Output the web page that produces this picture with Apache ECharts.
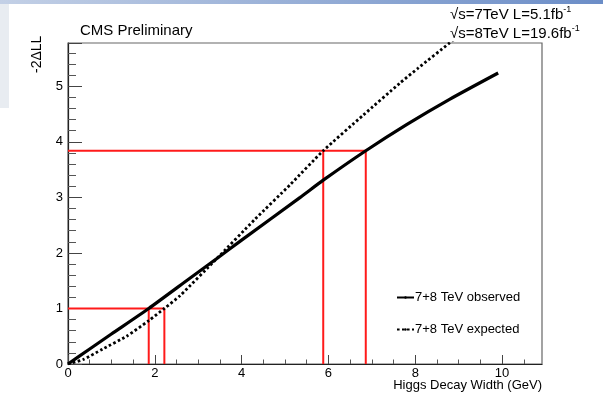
<!DOCTYPE html>
<html>
<head>
<meta charset="utf-8">
<script src="https://cdn.jsdelivr.net/npm/echarts@6/dist/echarts.min.js"></script>
<style>
html, body { margin: 0; padding: 0; background: #fff; }
#main { width: 603px; height: 396px; }
</style>
</head>
<body>
<div id="main"></div>
<script>
// -2 delta log-likelihood scan vs Higgs width
var obsX = [0, 0.5, 1.0, 1.86, 2.8, 3.43, 4.0, 5.35, 5.88, 6.86, 7.8, 8.8, 9.91];
var obsY = [0, 0.27, 0.54, 1.0, 1.54, 1.9, 2.23, 3.0, 3.31, 3.84, 4.31, 4.77, 5.24];
var expX = [0, 0.35, 0.8, 1.35, 1.86, 2.22, 2.58, 3.43, 4.3, 5.12, 5.88, 6.8, 7.65, 8.07, 8.79, 9.3];
var expY = [0, 0.08, 0.27, 0.5, 0.78, 1.0, 1.23, 1.9, 2.6, 3.23, 3.84, 4.48, 5.06, 5.33, 5.78, 6.09];
// red guide lines: CL levels and where each curve crosses them
var levels = [1, 3.84];
var obsCross = [1.86, 6.86];
var expCross = [2.22, 5.88];
var xTicks = [0, 2, 4, 6, 8, 10];

var font = 'Liberation Sans, Arial, Helvetica, sans-serif';

function pairs(xs, ys) {
	var out = [];
	for (var i = 0; i < xs.length; i++) out.push([xs[i], ys[i]]);
	return out;
}

var redSeries = [];
for (var i = 0; i < levels.length; i++) {
	var lv = levels[i];
	var far = Math.max(obsCross[i], expCross[i]);
	var segs = [
		[[0, lv], [far, lv]],
		[[obsCross[i], 0], [obsCross[i], lv]],
		[[expCross[i], 0], [expCross[i], lv]]
	];
	segs.forEach(function (s) {
		redSeries.push({
			type: 'line', data: s, symbol: 'none', silent: true, z: 1,
			lineStyle: { color: '#ff1a1a', width: 2 }
		});
	});
}

var myChart = echarts.init(document.getElementById('main'));
var option = {
	animation: false,
	backgroundColor: '#fff',
	grid: {
		left: 68, top: 43, right: 61, bottom: 32,
		show: true, borderColor: '#666', borderWidth: 1.2
	},
	xAxis: {
		type: 'value', min: 0, max: 10.92, interval: 2,
		axisLine: { onZero: false, lineStyle: { color: '#222', width: 1.2 } },
		axisTick: { inside: true, length: 9, lineStyle: { color: '#444' },
			customValues: xTicks },
		minorTick: { show: true, splitNumber: 4, length: 4.5, lineStyle: { color: '#555' } },
		axisLabel: { color: '#000', fontSize: 13, fontFamily: font, margin: 3,
			customValues: xTicks },
		splitLine: { show: false }
	},
	yAxis: {
		type: 'value', min: 0, max: 5.78, interval: 1,
		axisLine: { show: true, onZero: false, lineStyle: { color: '#222', width: 1.2 } },
		axisTick: { show: true, inside: true, length: 14, lineStyle: { color: '#444' } },
		minorTick: { show: true, splitNumber: 5, length: 8, lineStyle: { color: '#555' } },
		axisLabel: { color: '#000', fontSize: 13, fontFamily: font, margin: 5,
			showMaxLabel: false },
		splitLine: { show: false }
	},
	legend: {
		orient: 'vertical', left: 391, top: 286, itemGap: 19,
		itemWidth: 17, itemHeight: 3,
		textStyle: { color: '#000', fontSize: 13, fontFamily: font, padding: [0, 0, 0, -4] },
		data: ['7+8 TeV observed', '7+8 TeV expected']
	},
	graphic: [
		{ type: 'rect', shape: { x: 0, y: 0, width: 603, height: 4 }, silent: true,
			style: { fill: new echarts.graphic.LinearGradient(0, 0, 1, 0, [
				{ offset: 0, color: '#c3d0e6' }, { offset: 1, color: '#6b8dc7' }]) } },
		{ type: 'rect', shape: { x: 0, y: 4, width: 9, height: 104 }, silent: true,
			style: { fill: '#e8ecf1' } },
		{ type: 'text', left: 80, top: 23, silent: true,
			style: { text: 'CMS Preliminary', font: '15px ' + font, fill: '#000' } },
		{ type: 'text', left: 450, top: 5, silent: true,
			style: { text: '{a|√s=7TeV L=5.1fb}{s|-1}\n{a|√s=8TeV L=19.6fb}{s|-1}',
				fill: '#000', fontFamily: font,
				rich: { a: { fontSize: 15, lineHeight: 19, fontFamily: font },
					s: { fontSize: 9, verticalAlign: 'top', lineHeight: 19, padding: [0, 0, 6, 0], fontFamily: font } } } },
		{ type: 'text', x: 30, y: 73, rotation: Math.PI / 2, silent: true,
			style: { text: '-2ΔLL', font: '14px ' + font, fill: '#000' } },
		{ type: 'text', right: 61, top: 379, silent: true,
			style: { text: 'Higgs Decay Width (GeV)', font: '13px ' + font, fill: '#000' } }
	],
	series: redSeries.concat([
		{
			name: '7+8 TeV observed', type: 'line', data: pairs(obsX, obsY),
			symbol: 'none', smooth: 0.2, z: 3,
			lineStyle: { color: '#000', width: 3.2 }, itemStyle: { color: '#000' }
		},
		{
			name: '7+8 TeV expected', type: 'line', data: pairs(expX, expY),
			symbol: 'none', smooth: 0.2, z: 3, clip: true,
			lineStyle: { color: '#000', width: 2.8, type: [2.6, 2.4] }, itemStyle: { color: '#000' }
		}
	])
};
myChart.setOption(option);
</script>
</body>
</html>
